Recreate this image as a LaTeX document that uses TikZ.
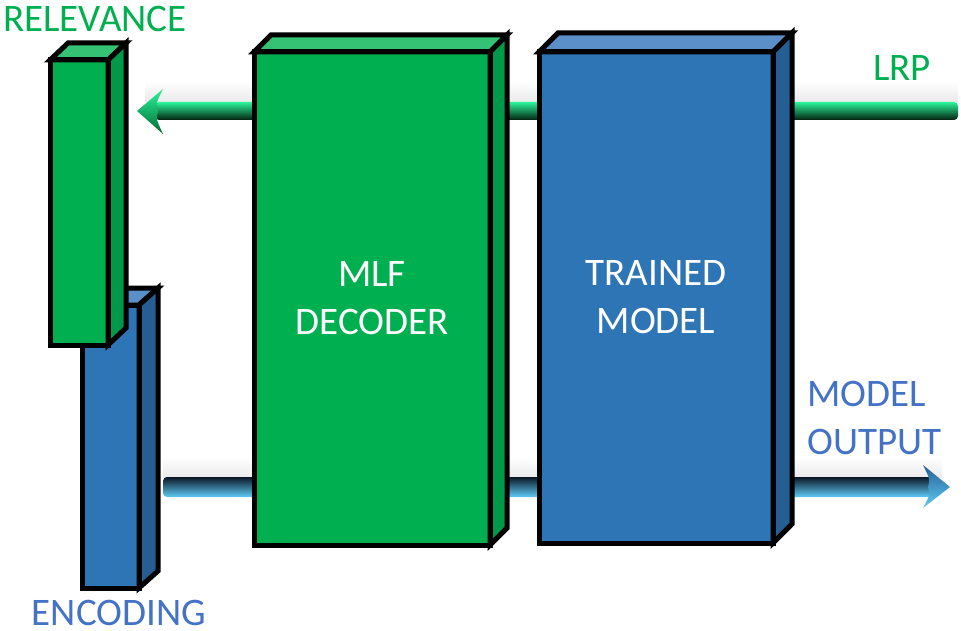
\documentclass[tikz,border=0pt]{standalone}
\usepackage{fontspec}
\setmainfont{Carlito}
\usetikzlibrary{calc,backgrounds}

\definecolor{mlfgreen}{HTML}{00B050}
\definecolor{greentop}{HTML}{35C274}
\definecolor{greenside}{HTML}{00994A}
\definecolor{modelblue}{HTML}{2E75B6}
\definecolor{bluetop}{HTML}{5A8FC8}
\definecolor{blueside}{HTML}{255E92}
\definecolor{labelgreen}{HTML}{00B050}
\definecolor{labelblue}{HTML}{4472C4}
\definecolor{lrplight}{HTML}{2BF59A}
\definecolor{lrpdark}{HTML}{04200F}
\definecolor{outlight}{HTML}{5FCDF7}
\definecolor{outdark}{HTML}{0A1626}

% top and right faces of a box, given its front node
\newcommand{\boxsides}[5]{%
    \filldraw[line width=5pt, fill=#4] (#1.north west) -- ++(#2,-#3)
        -- ($(#1.north east)+(#2,-#3)$) -- (#1.north east) -- cycle;
    \filldraw[line width=5pt, fill=#5] (#1.north east) -- ++(#2,-#3)
        -- ($(#1.south east)+(#2,-#3)$) -- (#1.south east) -- cycle;
    \draw[line width=5pt] (#1.north west) rectangle (#1.south east);}

\begin{document}
\begin{tikzpicture}[
    x=1pt, y=-1pt,
    line join=miter,
    bigfont/.style={font=\fontsize{39}{48}\selectfont},
    face/.style={
        draw,
        line width=5pt,
        inner sep=0pt,
        outer sep=0pt,
        align=center,
        text=white,
        bigfont
    },
    greenface/.style={face, fill=mlfgreen},
    blueface/.style={face, fill=modelblue},
    caption/.style={bigfont, inner sep=0pt, anchor=base}
]
    \useasboundingbox (0,0) rectangle (961,631);

    \node[blueface, minimum width=57pt, minimum height=283pt] (encoding) at (110.5,446.5) {};
    \boxsides{encoding}{19}{17}{bluetop}{blueside}
    \node[greenface, minimum width=58pt, minimum height=285pt] (relevance) at (79,202.5) {};
    \boxsides{relevance}{18}{17}{greentop}{greenside}

    \node[greenface, minimum width=236pt, minimum height=493pt] (decoder) at (372,298.5) {MLF\\DECODER};
    \boxsides{decoder}{17}{17}{greentop}{greenside}
    \node[blueface, minimum width=234pt, minimum height=491pt] (model) at (656,297.5) {TRAINED\\MODEL};
    \boxsides{model}{19}{19}{bluetop}{blueside}

    \node[caption, text=labelgreen] (relevance-label) at (95,32) {RELEVANCE};
    \node[caption, text=labelgreen] (lrp-label) at (902,81) {LRP};
    \node[caption, text=labelblue, align=left, anchor=west] (output-label) at (807,417.5) {MODEL\\OUTPUT};
    \node[caption, text=labelblue] (encoding-label) at (119,625) {ENCODING};

    \begin{scope}[on background layer]
        % LRP arrow, right to left
        \coordinate (lrpin) at (958,111);
        \path (relevance.east) ++(29,0) coordinate (lrpx);
        \coordinate (lrptip) at (lrpx |- lrpin);
        \shade[top color=white, bottom color=black!8]
            ($(lrptip)+(8,-30)$) rectangle ($(lrpin)+(0,-9)$);
        \shade[top color=lrplight, middle color=lrplight!60!mlfgreen, bottom color=lrpdark, rounded corners=4pt]
            ($(lrptip)+(18,-9)$) rectangle ($(lrpin)+(0,9)$);
        \shade[top color=lrplight, bottom color=mlfgreen!60!black]
            (lrptip) -- ($(lrptip)+(26,-22)$) .. controls ($(lrptip)+(19,-8)$) .. ($(lrptip)+(21,0)$)
            .. controls ($(lrptip)+(19,8)$) .. ($(lrptip)+(26,23)$) -- cycle;

        % output arrow, left to right
        \coordinate (outtip) at (950,487);
        \path (encoding.east) ++(24,0) coordinate (encx);
        \coordinate (encout) at (encx |- outtip);
        \shade[top color=white, bottom color=black!8]
            ($(encout)+(0,-30)$) rectangle ($(outtip)+(-8,-10)$);
        \shade[top color=outdark, middle color=modelblue!60!outlight, bottom color=outlight, rounded corners=4pt]
            ($(encout)+(0,-10)$) rectangle ($(outtip)+(-18,10)$);
        \shade[top color=blueside, bottom color=outlight]
            (outtip) -- ($(outtip)+(-27,-22)$) .. controls ($(outtip)+(-20,-8)$) .. ($(outtip)+(-22,0)$)
            .. controls ($(outtip)+(-20,8)$) .. ($(outtip)+(-27,21)$) -- cycle;
    \end{scope}
\end{tikzpicture}
\end{document}
